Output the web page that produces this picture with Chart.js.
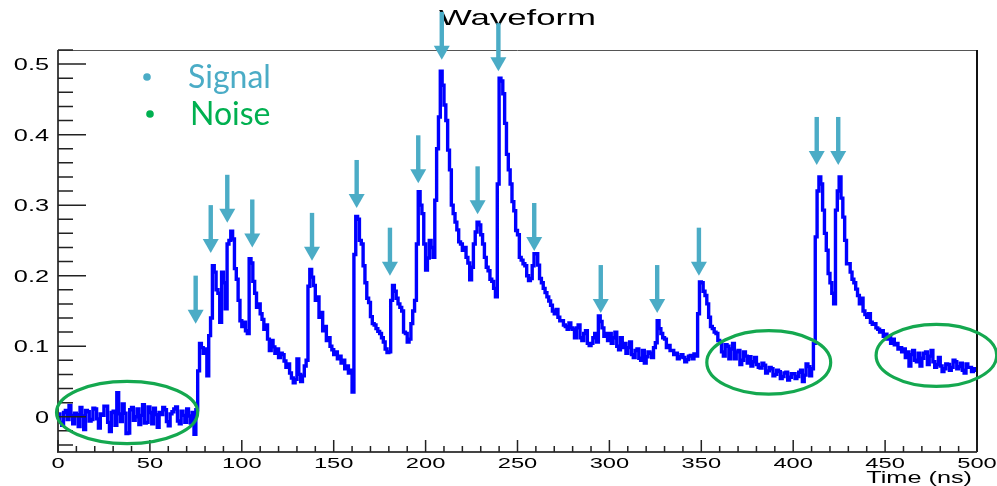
<!DOCTYPE html>
<html>
<head>
<meta charset="utf-8">
<title>Waveform</title>
<script src="https://cdn.jsdelivr.net/npm/chart.js@4/dist/chart.umd.min.js"></script>
<style>
  html, body { margin: 0; padding: 0; background: #fff; }
  #wrap { width: 997px; height: 486px; position: relative; }
</style>
</head>
<body>
<div id="wrap"><canvas id="waveformChart"></canvas></div>
<script>
// Waveform histogram, 1 ns bins starting at 0 ns (one row = 10 ns)
const binWidth = 1;
const amplitude = [
  0.004, -0.008, -0.012, 0.006, 0.009, -0.004, 0.016, 0.002, -0.010, 0.005,
  0.003, -0.014, 0.013, 0.001, -0.018, 0.009, 0.007, -0.006, -0.004, 0.012,
  0.011, -0.003, -0.016, 0.004, 0.002, 0.015, 0.015, -0.008, -0.021, 0.006,
  0.008, -0.012, 0.034, 0.004, -0.007, 0.018, 0.005, -0.024, -0.023, 0.010,
  0.013, -0.005, 0.000, 0.011, -0.011, 0.002, 0.017, -0.009, -0.008, 0.014,
  0.006, -0.010, 0.012, 0.003, -0.015, 0.006, 0.003, 0.013, 0.010, -0.007,
  -0.013, 0.004, 0.007, 0.011, 0.014, -0.006, -0.010, 0.008, 0.002, -0.008,
  0.011, 0.001, -0.009, 0.006, -0.025, 0.010, 0.065, 0.104, 0.098, 0.090,
  0.096, 0.058, 0.115, 0.140, 0.214, 0.205, 0.180, 0.175, 0.134, 0.205,
  0.190, 0.153, 0.245, 0.250, 0.263, 0.252, 0.210, 0.195, 0.165, 0.136,
  0.128, 0.134, 0.122, 0.118, 0.224, 0.218, 0.192, 0.175, 0.155, 0.160,
  0.146, 0.138, 0.124, 0.130, 0.110, 0.094, 0.108, 0.099, 0.090, 0.096,
  0.084, 0.090, 0.088, 0.079, 0.070, 0.075, 0.062, 0.055, 0.048, 0.053,
  0.082, 0.060, 0.050, 0.058, 0.072, 0.080, 0.185, 0.209, 0.198, 0.186,
  0.165, 0.170, 0.141, 0.148, 0.122, 0.128, 0.108, 0.112, 0.100, 0.095,
  0.088, 0.092, 0.082, 0.086, 0.076, 0.080, 0.068, 0.072, 0.062, 0.066,
  0.035, 0.230, 0.284, 0.280, 0.250, 0.245, 0.214, 0.190, 0.168, 0.162,
  0.142, 0.132, 0.130, 0.125, 0.121, 0.118, 0.112, 0.106, 0.096, 0.091,
  0.092, 0.165, 0.186, 0.178, 0.168, 0.160, 0.155, 0.150, 0.120, 0.118,
  0.106, 0.110, 0.132, 0.150, 0.165, 0.245, 0.319, 0.300, 0.288, 0.245,
  0.208, 0.225, 0.250, 0.240, 0.226, 0.307, 0.380, 0.425, 0.490, 0.470,
  0.442, 0.420, 0.378, 0.350, 0.300, 0.288, 0.276, 0.265, 0.248, 0.245,
  0.236, 0.240, 0.226, 0.218, 0.194, 0.212, 0.245, 0.262, 0.276, 0.272,
  0.258, 0.245, 0.226, 0.212, 0.207, 0.195, 0.192, 0.182, 0.170, 0.330,
  0.480, 0.476, 0.458, 0.416, 0.372, 0.350, 0.330, 0.305, 0.292, 0.264,
  0.258, 0.226, 0.222, 0.217, 0.214, 0.200, 0.193, 0.196, 0.214, 0.231,
  0.231, 0.215, 0.196, 0.190, 0.182, 0.176, 0.170, 0.164, 0.158, 0.150,
  0.146, 0.152, 0.141, 0.136, 0.136, 0.130, 0.128, 0.124, 0.133, 0.126,
  0.124, 0.112, 0.126, 0.130, 0.112, 0.108, 0.118, 0.122, 0.104, 0.101,
  0.104, 0.112, 0.118, 0.106, 0.143, 0.135, 0.126, 0.114, 0.118, 0.108,
  0.118, 0.104, 0.112, 0.120, 0.100, 0.095, 0.112, 0.098, 0.104, 0.090,
  0.098, 0.106, 0.088, 0.084, 0.094, 0.096, 0.083, 0.080, 0.094, 0.076,
  0.085, 0.092, 0.090, 0.084, 0.098, 0.105, 0.136, 0.125, 0.118, 0.112,
  0.110, 0.098, 0.101, 0.094, 0.094, 0.088, 0.090, 0.082, 0.085, 0.088,
  0.084, 0.078, 0.081, 0.086, 0.087, 0.082, 0.089, 0.086, 0.146, 0.191,
  0.190, 0.178, 0.172, 0.160, 0.141, 0.128, 0.125, 0.120, 0.118, 0.108,
  0.106, 0.092, 0.086, 0.102, 0.100, 0.082, 0.096, 0.104, 0.082, 0.092,
  0.094, 0.074, 0.080, 0.092, 0.086, 0.076, 0.085, 0.072, 0.078, 0.084,
  0.074, 0.070, 0.069, 0.076, 0.073, 0.062, 0.065, 0.070, 0.068, 0.058,
  0.060, 0.066, 0.064, 0.054, 0.057, 0.062, 0.063, 0.052, 0.056, 0.061,
  0.061, 0.054, 0.057, 0.063, 0.066, 0.050, 0.059, 0.075, 0.071, 0.058,
  0.068, 0.104, 0.255, 0.320, 0.340, 0.330, 0.293, 0.260, 0.236, 0.203,
  0.190, 0.175, 0.160, 0.293, 0.320, 0.340, 0.310, 0.283, 0.250, 0.217,
  0.217, 0.205, 0.195, 0.190, 0.181, 0.172, 0.160, 0.168, 0.150, 0.145,
  0.141, 0.146, 0.134, 0.131, 0.132, 0.126, 0.124, 0.120, 0.122, 0.114,
  0.117, 0.110, 0.114, 0.104, 0.110, 0.102, 0.104, 0.096, 0.098, 0.092,
  0.096, 0.084, 0.092, 0.072, 0.088, 0.094, 0.080, 0.078, 0.090, 0.072,
  0.083, 0.090, 0.092, 0.074, 0.086, 0.094, 0.078, 0.070, 0.074, 0.084,
  0.072, 0.064, 0.068, 0.075, 0.074, 0.066, 0.070, 0.080, 0.078, 0.068,
  0.071, 0.076, 0.066, 0.062, 0.075, 0.070, 0.070, 0.064, 0.068, 0.066
];

// Axis ticks
const xTicks = [0, 50, 100, 150, 200, 250, 300, 350, 400, 450, 500];
const xTickLabels = ["0", "50", "100", "150", "200", "250", "300", "350", "400", "450", "500"];
const yTicks = [0, 0.1, 0.2, 0.3, 0.4, 0.5];
const yTickLabels = ["0", "0.1", "0.2", "0.3", "0.4", "0.5"];

// Arrows pointing at signal pulses: time and level of the arrow tip
const signalTimes = [74.9, 83.1, 92.1, 105.7, 138.2, 162.5, 180.6, 196.0, 208.8, 228.3, 239.6, 259.1, 295.3, 326.0, 348.7, 412.8, 424.5];
const signalLevels = [0.132, 0.232, 0.275, 0.240, 0.221, 0.296, 0.200, 0.331, 0.506, 0.287, 0.490, 0.235, 0.147, 0.147, 0.200, 0.357, 0.357];

// Ellipses around noise-only stretches
const noiseTimes = [37.6, 386.7, 477.9];
const noiseLevels = [0.006, 0.077, 0.087];
const noiseHalfTimes = [38.4, 33.7, 32.8];
const noiseHalfLevels = [0.044, 0.045, 0.044];

const legendLabels = ["Signal", "Noise"];
const legendColors = ["#4BACC6", "#00B050"];

// the ROOT picture is stretched sideways, so is its text
const stretch = 1.58;

function stretchedText(ctx, text, x, y, align, font) {
  ctx.save();
  ctx.font = font;
  ctx.textAlign = 'left';
  ctx.textBaseline = 'alphabetic';
  const w = ctx.measureText(text).width * stretch;
  let left = x;
  if (align === 'center') left = x - w / 2;
  if (align === 'right') left = x - w;
  ctx.translate(left, y);
  ctx.scale(stretch, 1);
  ctx.fillStyle = '#000';
  ctx.fillText(text, 0, 0);
  ctx.restore();
}

const points = amplitude.map((v, i) => ({ x: i * binWidth, y: v }));
points.push({ x: amplitude.length * binWidth, y: amplitude[amplitude.length - 1] });

const rootStyle = {
  id: 'rootStyle',
  afterDatasetsDraw(chart) {
    const ctx = chart.ctx;
    const a = chart.chartArea;
    const xs = chart.scales.x;
    const ys = chart.scales.y;

    // frame
    ctx.save();
    ctx.strokeStyle = '#555';
    ctx.lineWidth = 1;
    ctx.beginPath();
    ctx.moveTo(a.left, a.top + 0.5);
    ctx.lineTo(a.right, a.top + 0.5);
    ctx.stroke();
    ctx.strokeStyle = '#111';
    ctx.lineWidth = 2;
    ctx.beginPath();
    ctx.moveTo(a.right, a.top);
    ctx.lineTo(a.right, a.bottom);
    ctx.stroke();
    ctx.strokeStyle = '#444';
    ctx.beginPath();
    ctx.moveTo(a.left, a.top);
    ctx.lineTo(a.left, a.bottom);
    ctx.lineTo(a.right, a.bottom);
    ctx.stroke();

    // inner tick marks
    ctx.strokeStyle = '#222';
    ctx.lineWidth = 1.5;
    ctx.beginPath();
    for (let v = -0.04; v <= 0.521; v += 0.02) {
      const r = Math.round(v * 100) / 100;
      const major = Math.abs(r * 10 - Math.round(r * 10)) < 1e-6;
      const y = ys.getPixelForValue(r);
      ctx.moveTo(a.left, y);
      ctx.lineTo(a.left + (major ? 28 : 15), y);
    }
    for (let t = 0; t <= 500; t += 10) {
      const x = xs.getPixelForValue(t);
      ctx.moveTo(x, a.bottom);
      ctx.lineTo(x, a.bottom - (t % 50 === 0 ? 12 : 6));
    }
    ctx.stroke();
    ctx.restore();

    // tick labels, axis title, title
    yTicks.forEach((v, i) => {
      stretchedText(ctx, yTickLabels[i], a.left - 9, ys.getPixelForValue(v) + 6, 'right', '16px "Liberation Sans"');
    });
    xTicks.forEach((t, i) => {
      stretchedText(ctx, xTickLabels[i], xs.getPixelForValue(t), a.bottom + 16, 'center', '15px "Liberation Sans"');
    });
    stretchedText(ctx, 'Time (ns)', a.right - 5, a.bottom + 31, 'right', '16px "Liberation Sans"');
    stretchedText(ctx, 'Waveform', (a.left + a.right) / 2, a.top - 25, 'center', '22px "Liberation Sans"');

    // noise ellipses
    ctx.save();
    ctx.strokeStyle = '#14A84F';
    ctx.lineWidth = 3.2;
    noiseTimes.forEach((t, i) => {
      const cx = xs.getPixelForValue(t);
      const cy = ys.getPixelForValue(noiseLevels[i]);
      const rx = xs.getPixelForValue(t + noiseHalfTimes[i]) - cx;
      const ry = cy - ys.getPixelForValue(noiseLevels[i] + noiseHalfLevels[i]);
      ctx.beginPath();
      ctx.ellipse(cx, cy, rx, ry, 0, 0, Math.PI * 2);
      ctx.stroke();
    });
    ctx.restore();

    // signal arrows
    ctx.save();
    ctx.fillStyle = legendColors[0];
    signalTimes.forEach((t, i) => {
      const x = xs.getPixelForValue(t);
      const tip = ys.getPixelForValue(signalLevels[i]);
      ctx.fillRect(x - 2.2, tip - 48, 4.4, 36);
      ctx.beginPath();
      ctx.moveTo(x - 8, tip - 14);
      ctx.lineTo(x + 8, tip - 14);
      ctx.lineTo(x, tip);
      ctx.closePath();
      ctx.fill();
    });

    // legend
    ctx.font = '32px Lato';
    ctx.textBaseline = 'alphabetic';
    ctx.textAlign = 'left';
    legendLabels.forEach((label, i) => {
      const y = a.top + 38 + i * 37;
      ctx.fillStyle = legendColors[i];
      ctx.beginPath();
      ctx.arc(a.left + 89 + i * 3, y - 11, 3.8, 0, Math.PI * 2);
      ctx.fill();
      ctx.fillText(label, a.left + 130 + i * 2, y);
    });
    ctx.restore();
  }
};

const data = {
  datasets: [{
    label: 'Waveform',
    data: points,
    borderColor: '#0000FF',
    borderWidth: 3.4,
    pointRadius: 0,
    stepped: 'before',
    fill: false,
    borderJoinStyle: 'miter'
  }]
};

const config = {
  type: 'line',
  data: data,
  options: {
    responsive: true,
    maintainAspectRatio: false,
    animation: false,
    layout: { padding: { top: 50, right: 20, bottom: 0, left: 0 } },
    plugins: {
      legend: { display: false },
      title: { display: false },
      tooltip: { enabled: false }
    },
    scales: {
      x: {
        type: 'linear',
        min: 0,
        max: 500,
        grid: { display: false },
        border: { display: false },
        ticks: { display: false },
        afterFit: (s) => { s.height = 34; }
      },
      y: {
        min: -0.05,
        max: 0.52,
        grid: { display: false },
        border: { display: false },
        ticks: { display: false },
        afterFit: (s) => { s.width = 58; }
      }
    }
  },
  plugins: [rootStyle]
};

window.addEventListener('DOMContentLoaded', () => {
  const waveformChart = new Chart(document.getElementById('waveformChart'), config);
});
</script>
</body>
</html>
